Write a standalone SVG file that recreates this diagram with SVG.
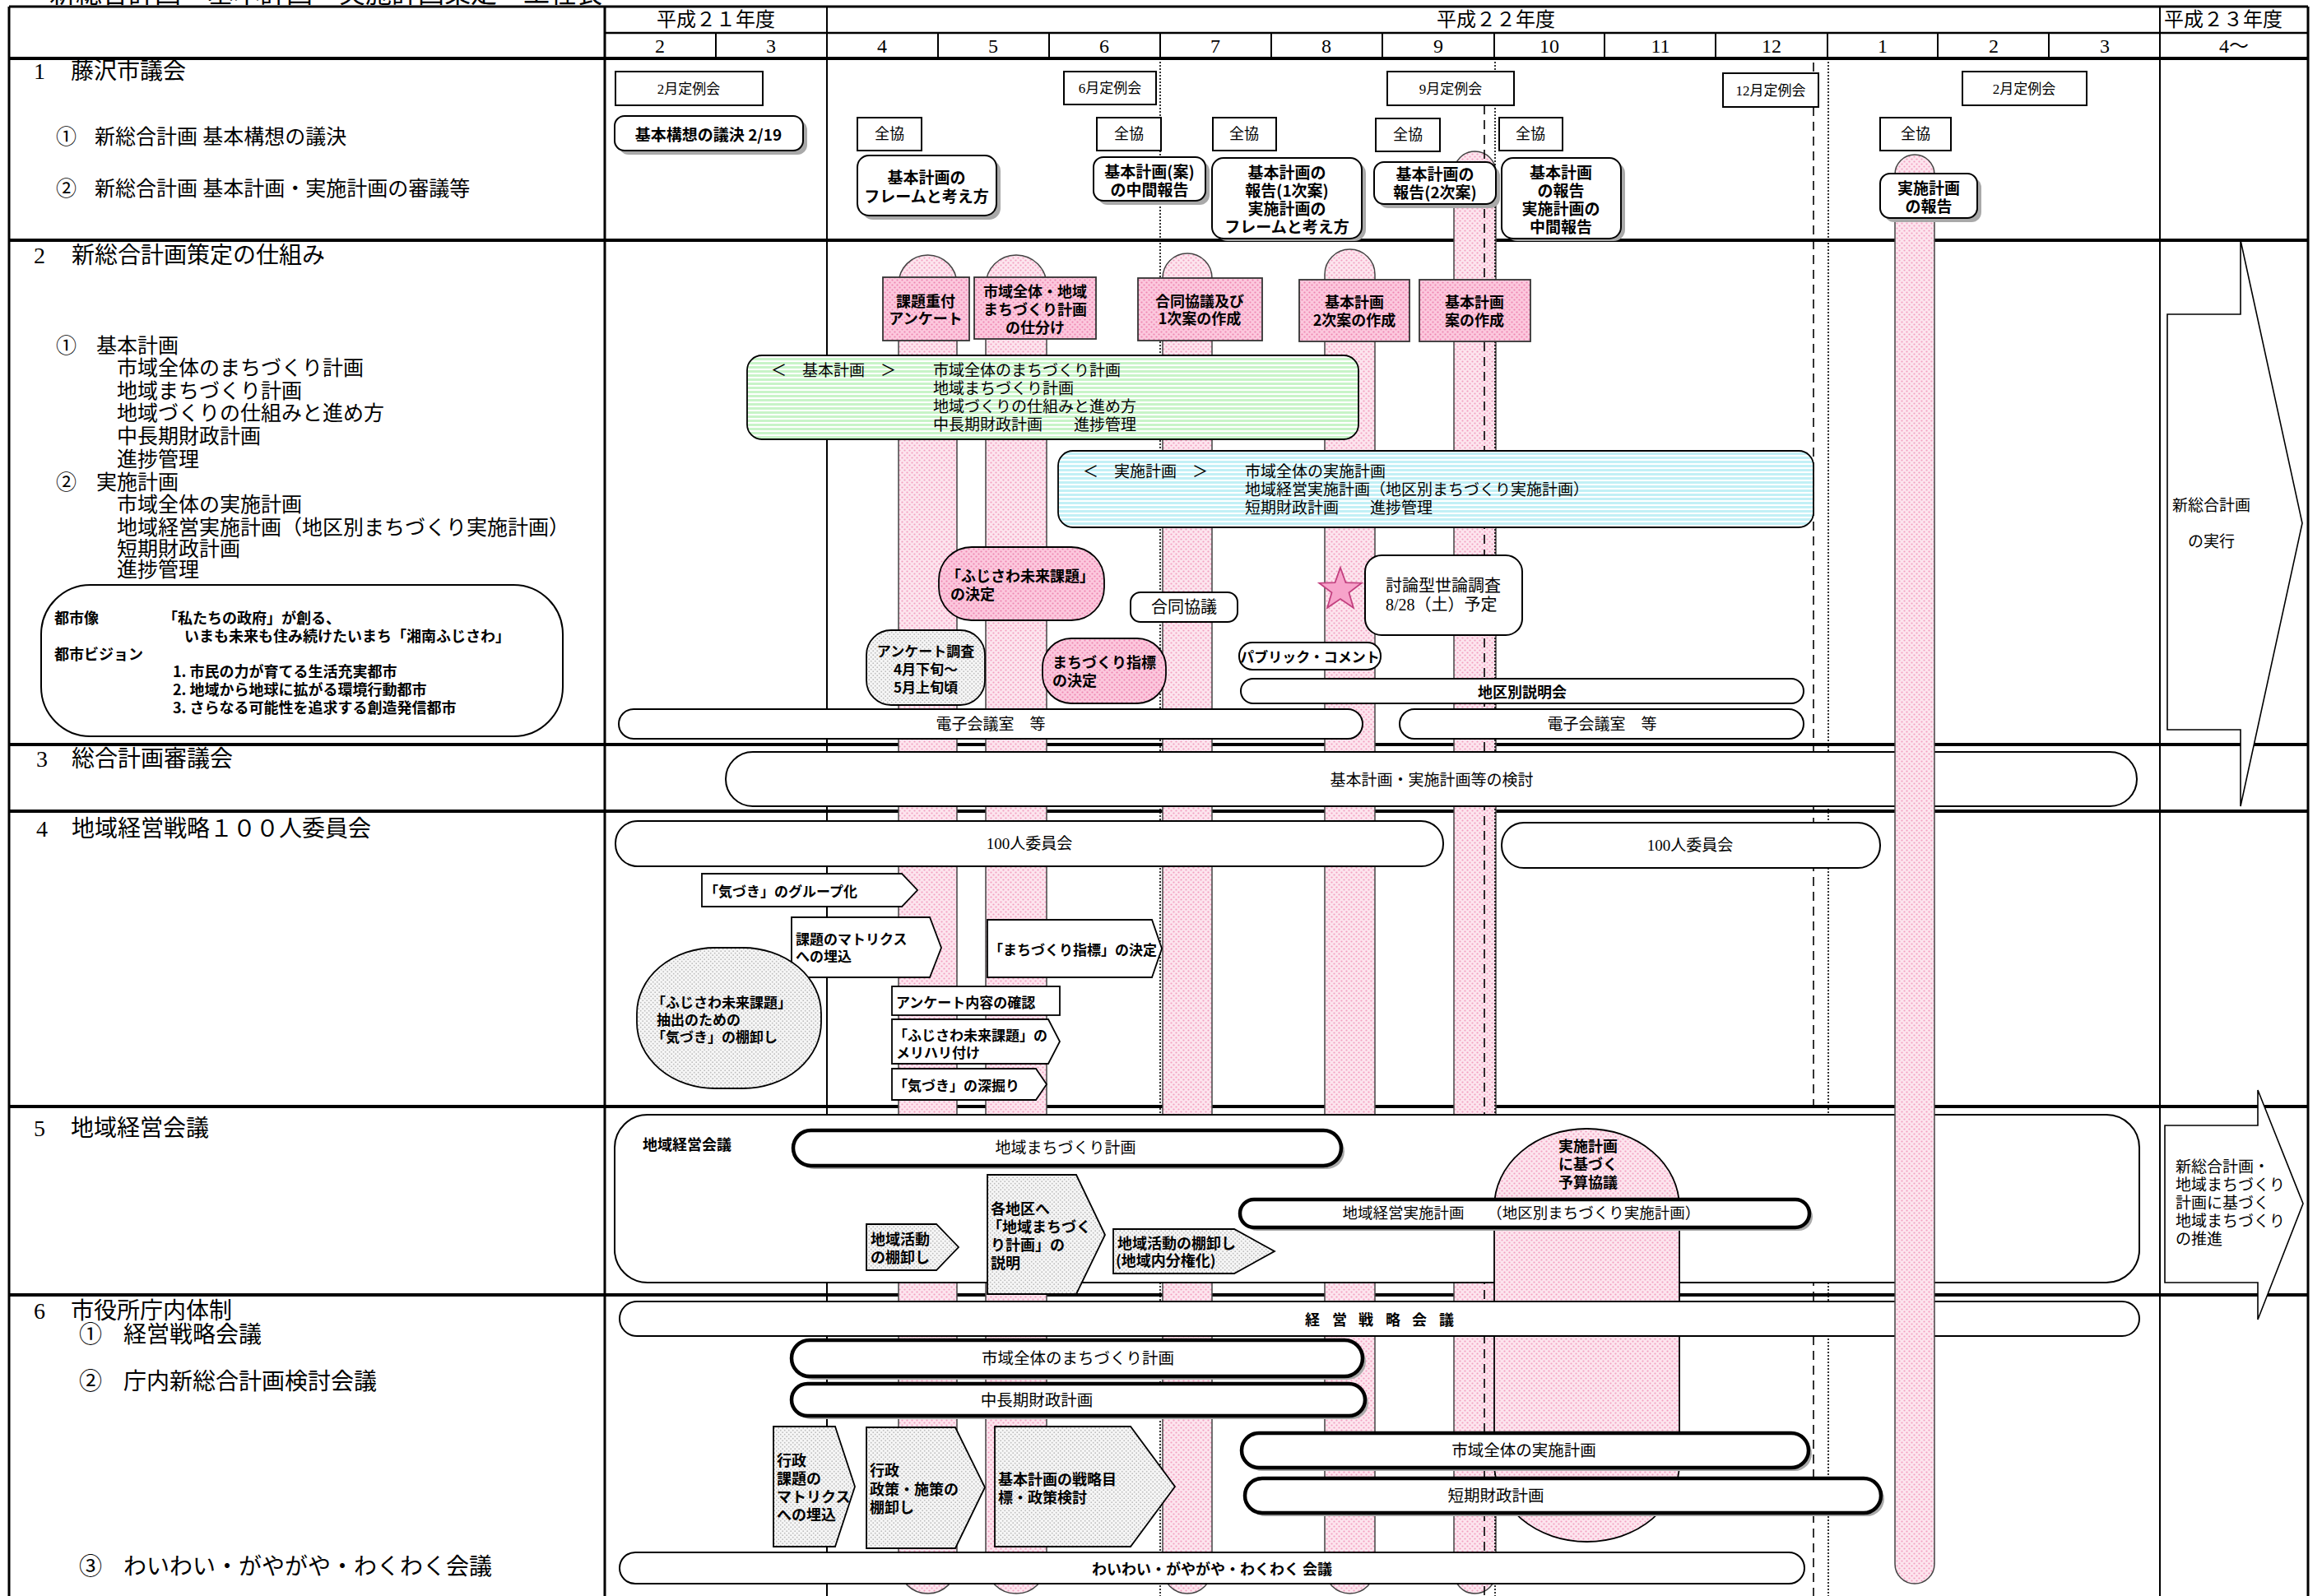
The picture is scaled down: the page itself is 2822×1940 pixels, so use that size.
<svg xmlns="http://www.w3.org/2000/svg" width="2822" height="1940" viewBox="0 0 2822 1940">
<style>
text{dominant-baseline:central}
.s{font-family:'Liberation Serif','Noto Sans CJK JP',serif;fill:#000}
.b{font-family:'Noto Sans CJK JP','Liberation Sans',sans-serif;font-weight:700;fill:#000}
.m{text-anchor:middle}
.thin{fill:#fff;stroke:#000;stroke-width:2}
.thick{fill:#fff;stroke:#000;stroke-width:4.5}
.sh{fill:#a9a9a9}
.pil{fill:url(#pk);stroke:#444;stroke-width:1.5}
.pent{fill:url(#gd);stroke:#000;stroke-width:1.8}
.pentw{fill:#fff;stroke:#000;stroke-width:1.8}
.row{stroke:#000;stroke-width:4}
</style>
<defs>
<pattern id="pk" width="6" height="6" patternUnits="userSpaceOnUse"><rect width="6" height="6" fill="#fde5ee"/><circle cx="1.5" cy="1.5" r="1.1" fill="#f2a0c1"/><circle cx="4.5" cy="4.5" r="1.1" fill="#f2a0c1"/></pattern>
<pattern id="pkb" width="6" height="6" patternUnits="userSpaceOnUse"><rect width="6" height="6" fill="#fcc8dd"/><circle cx="1.5" cy="1.5" r="1.1" fill="#ee86b2"/><circle cx="4.5" cy="4.5" r="1.1" fill="#ee86b2"/></pattern>
<pattern id="gd" width="5" height="5" patternUnits="userSpaceOnUse"><rect width="5" height="5" fill="#f6f6f6"/><circle cx="1.2" cy="1.2" r="0.9" fill="#bdbdbd"/><circle cx="3.7" cy="3.7" r="0.9" fill="#bdbdbd"/></pattern>
<pattern id="gr" width="6" height="5" patternUnits="userSpaceOnUse"><rect width="6" height="5" fill="#c8f4c8"/><rect y="3" width="6" height="2" fill="#ffffff"/></pattern>
<pattern id="cy" width="6" height="5" patternUnits="userSpaceOnUse"><rect width="6" height="5" fill="#c2f0f6"/><rect y="3" width="6" height="2" fill="#ffffff"/></pattern>
</defs>
<rect width="2822" height="1940" fill="#fff"/>

<g id="grid" stroke="#000" fill="none">
<line x1="11" y1="8" x2="2805" y2="8" stroke-width="3"/>
<line x1="11" y1="8" x2="11" y2="1940" stroke-width="3"/>
<line x1="2805" y1="8" x2="2805" y2="1940" stroke-width="3"/>
<line x1="735" y1="8" x2="735" y2="1940" stroke-width="3"/>
<line x1="735" y1="40" x2="2805" y2="40" stroke-width="2.5"/>
<line x1="11" y1="71" x2="2805" y2="71" class="row"/>
<line x1="11" y1="292" x2="2805" y2="292" class="row"/>
<line x1="11" y1="905" x2="2805" y2="905" class="row"/>
<line x1="11" y1="986" x2="2805" y2="986" class="row"/>
<line x1="11" y1="1345" x2="2805" y2="1345" class="row"/>
<line x1="11" y1="1574" x2="2805" y2="1574" class="row"/>
<g stroke-width="2">
<line x1="870" y1="40" x2="870" y2="71"/><line x1="1140" y1="40" x2="1140" y2="71"/><line x1="1275" y1="40" x2="1275" y2="71"/><line x1="1410" y1="40" x2="1410" y2="71"/><line x1="1545" y1="40" x2="1545" y2="71"/><line x1="1680" y1="40" x2="1680" y2="71"/><line x1="1816" y1="40" x2="1816" y2="71"/><line x1="1950" y1="40" x2="1950" y2="71"/><line x1="2085" y1="40" x2="2085" y2="71"/><line x1="2221" y1="40" x2="2221" y2="71"/><line x1="2355" y1="40" x2="2355" y2="71"/><line x1="2490" y1="40" x2="2490" y2="71"/>
<line x1="1005" y1="8" x2="1005" y2="1940"/>
<line x1="2625" y1="8" x2="2625" y2="1940"/>
</g>
</g>

<g id="pillars">
<rect class="pil" x="1092" y="310" width="71" height="1627" rx="35.5"/>
<rect class="pil" x="1198" y="310" width="74" height="1627" rx="37"/>
<rect class="pil" x="1413" y="308" width="60" height="1629" rx="30"/>
<rect class="pil" x="1610" y="303" width="61" height="1634" rx="30.5"/>
<rect class="pil" x="1767" y="184" width="51" height="1753" rx="25.5"/>
</g>

<g id="guides" fill="none" stroke="#000" stroke-width="1.6">
<line x1="1410" y1="71" x2="1410" y2="1940" stroke-dasharray="2 2"/>
<line x1="1817" y1="71" x2="1817" y2="1940" stroke-dasharray="2 2"/>
<line x1="2222" y1="71" x2="2222" y2="1940" stroke-dasharray="2 2"/>
<line x1="1804" y1="128" x2="1804" y2="1940" stroke-dasharray="11 7"/>
<line x1="2204" y1="76" x2="2204" y2="1940" stroke-dasharray="11 7"/>
</g>

<g id="header">
<text class="s" x="60" y="-8" font-size="32">新総合計画　基本計画・実施計画策定　工程表</text>
<text class="s m" x="870" y="24" font-size="24">平成２１年度</text>
<text class="s m" x="1818" y="24" font-size="24">平成２２年度</text>
<text class="s" x="2630" y="24" font-size="24">平成２３年度</text>
<g class="s m" font-size="24">
<text x="802" y="56">2</text><text x="937" y="56">3</text><text x="1072" y="56">4</text><text x="1207" y="56">5</text><text x="1342" y="56">6</text><text x="1477" y="56">7</text><text x="1612" y="56">8</text><text x="1748" y="56">9</text><text x="1883" y="56">10</text><text x="2018" y="56">11</text><text x="2153" y="56">12</text><text x="2288" y="56">1</text><text x="2423" y="56">2</text><text x="2558" y="56">3</text><text x="2715" y="56">4～</text>
</g>
</g>

<g id="labels" class="s">
<text x="41" y="86" font-size="28">1</text><text x="86" y="86" font-size="28">藤沢市議会</text>
<text x="68" y="166" font-size="25">①</text><text x="115" y="166" font-size="25">新総合計画 基本構想の議決</text>
<text x="68" y="229" font-size="25">②</text><text x="115" y="229" font-size="25">新総合計画 基本計画・実施計画の審議等</text>
<text x="41" y="310" font-size="28">2</text><text x="87" y="310" font-size="28">新総合計画策定の仕組み</text>
<g font-size="25">
<text x="68" y="420">①</text><text x="117" y="420">基本計画</text>
<text x="142" y="447">市域全体のまちづくり計画</text>
<text x="142" y="475">地域まちづくり計画</text>
<text x="142" y="502">地域づくりの仕組みと進め方</text>
<text x="142" y="530">中長期財政計画</text>
<text x="142" y="558">進捗管理</text>
<text x="68" y="586">②</text><text x="117" y="586">実施計画</text>
<text x="142" y="613">市域全体の実施計画</text>
<text x="142" y="641">地域経営実施計画（地区別まちづくり実施計画）</text>
<text x="142" y="667">短期財政計画</text>
<text x="142" y="692">進捗管理</text>
</g>
<text x="44" y="922" font-size="28">3</text><text x="87" y="922" font-size="28">総合計画審議会</text>
<text x="44" y="1007" font-size="28">4</text><text x="87" y="1007" font-size="28">地域経営戦略１００人委員会</text>
<text x="41" y="1371" font-size="28">5</text><text x="86" y="1371" font-size="28">地域経営会議</text>
<text x="41" y="1593" font-size="28">6</text><text x="86" y="1593" font-size="28">市役所庁内体制</text>
<text x="96" y="1622" font-size="28">①</text><text x="150" y="1622" font-size="28">経営戦略会議</text>
<text x="96" y="1679" font-size="28">②</text><text x="150" y="1679" font-size="28">庁内新総合計画検討会議</text>
<text x="96" y="1904" font-size="28">③</text><text x="150" y="1904" font-size="28">わいわい・がやがや・わくわく会議</text>
</g>

<g id="vision">
<rect class="thin" x="50" y="711" width="634" height="184" rx="60"/>
<g class="b" font-size="18">
<text x="66" y="750">都市像</text>
<text x="198" y="750">「私たちの政府」が創る、</text>
<text x="224" y="772">いまも未来も住み続けたいまち「湘南ふじさわ」</text>
<text x="66" y="794">都市ビジョン</text>
<text x="210" y="815">1. 市民の力が育てる生活充実都市</text>
<text x="210" y="837">2. 地域から地球に拡がる環境行動都市</text>
<text x="210" y="859">3. さらなる可能性を追求する創造発信都市</text>
</g>
</g>

<g id="row3">
<rect class="thin" x="882" y="914" width="1715" height="66" rx="33"/>
<text class="s m" x="1740" y="948" font-size="19">基本計画・実施計画等の検討</text>
</g>

<g id="row5frame">
<rect class="thin" x="747" y="1355" width="1853" height="204" rx="40"/>
<text class="b" x="781" y="1390" font-size="18">地域経営会議</text>
</g>

<g id="budget">
<rect x="1816" y="1372" width="225" height="502" rx="112" ry="95" fill="url(#pk)" stroke="#000" stroke-width="1.8"/>
<g class="b m" font-size="18"><text x="1930" y="1392">実施計画</text><text x="1930" y="1414">に基づく</text><text x="1930" y="1436">予算協議</text></g>
</g>

<g id="strategy">
<rect class="thin" x="753" y="1582" width="1847" height="42" rx="21"/>
<text class="b" y="1603" font-size="18" x="1586 1619 1651 1684 1716 1749">経営戦略会議</text>
</g>

<g id="pillar6">
<rect class="pil" x="2303" y="188" width="48" height="1737" rx="24"/>
</g>

<g id="row1">
<g class="s m" font-size="17">
<rect class="thin" x="748" y="87" width="179" height="41"/><text x="837" y="108">2月定例会</text>
<rect class="thin" x="1293" y="87" width="112" height="40"/><text x="1349" y="107">6月定例会</text>
<rect class="thin" x="1686" y="87" width="154" height="41"/><text x="1763" y="108">9月定例会</text>
<rect class="thin" x="2094" y="89" width="116" height="41"/><text x="2152" y="110">12月定例会</text>
<rect class="thin" x="2385" y="87" width="151" height="41"/><text x="2460" y="108">2月定例会</text>
</g>
<g class="s m" font-size="18">
<rect class="thin" x="1042" y="143" width="78" height="40"/><text x="1081" y="163">全協</text>
<rect class="thin" x="1333" y="143" width="78" height="40"/><text x="1372" y="163">全協</text>
<rect class="thin" x="1474" y="143" width="77" height="40"/><text x="1512" y="163">全協</text>
<rect class="thin" x="1672" y="144" width="78" height="40"/><text x="1711" y="164">全協</text>
<rect class="thin" x="1822" y="143" width="77" height="40"/><text x="1860" y="163">全協</text>
<rect class="thin" x="2285" y="143" width="86" height="40"/><text x="2328" y="163">全協</text>
</g>
<g class="b m" font-size="19">
<rect class="sh" x="752" y="146" width="229" height="42" rx="12"/><rect class="thin" x="747" y="141" width="229" height="42" rx="12"/><text x="861" y="162">基本構想の議決 2/19</text>
<rect class="sh" x="1047" y="194" width="169" height="73" rx="14"/><rect class="thin" x="1042" y="189" width="169" height="73" rx="14"/><text x="1126" y="214">基本計画の</text><text x="1126" y="237">フレームと考え方</text>
<rect class="sh" x="1334" y="196" width="136" height="53" rx="12"/><rect class="thin" x="1329" y="191" width="136" height="53" rx="12"/><text x="1397" y="207">基本計画(案)</text><text x="1397" y="229">の中間報告</text>
<rect class="sh" x="1478" y="197" width="182" height="96" rx="14"/><rect class="thin" x="1473" y="192" width="182" height="98" rx="14"/><text x="1564" y="208">基本計画の</text><text x="1564" y="230">報告(1次案)</text><text x="1564" y="252">実施計画の</text><text x="1564" y="274">フレームと考え方</text>
<rect class="sh" x="1675" y="202" width="148" height="51" rx="12"/><rect class="thin" x="1670" y="197" width="148" height="51" rx="12"/><text x="1744" y="210">基本計画の</text><text x="1744" y="232">報告(2次案)</text>
<rect class="sh" x="1830" y="197" width="145" height="96" rx="14"/><rect class="thin" x="1825" y="192" width="145" height="98" rx="14"/><text x="1897" y="208">基本計画</text><text x="1897" y="230">の報告</text><text x="1897" y="252">実施計画の</text><text x="1897" y="274">中間報告</text>
<rect class="sh" x="2290" y="216" width="118" height="54" rx="12"/><rect class="thin" x="2285" y="211" width="118" height="54" rx="12"/><text x="2344" y="227">実施計画</text><text x="2344" y="249">の報告</text>
</g>
</g>

<g id="row2">
<g class="b m" font-size="18">
<rect x="1073" y="337" width="105" height="77" fill="url(#pkb)" stroke="#333" stroke-width="1.8"/><text x="1125" y="365">課題重付</text><text x="1125" y="386">アンケート</text>
<rect x="1184" y="337" width="148" height="75" fill="url(#pkb)" stroke="#333" stroke-width="1.8"/><text x="1258" y="353">市域全体・地域</text><text x="1258" y="375">まちづくり計画</text><text x="1258" y="397">の仕分け</text>
<rect x="1383" y="338" width="151" height="76" fill="url(#pkb)" stroke="#333" stroke-width="1.8"/><text x="1458" y="365">合同協議及び</text><text x="1458" y="386">1次案の作成</text>
<rect x="1579" y="340" width="134" height="75" fill="url(#pkb)" stroke="#333" stroke-width="1.8"/><text x="1646" y="366">基本計画</text><text x="1646" y="388">2次案の作成</text>
<rect x="1725" y="340" width="135" height="75" fill="url(#pkb)" stroke="#333" stroke-width="1.8"/><text x="1792" y="366">基本計画</text><text x="1792" y="388">案の作成</text>
</g>
<rect x="908" y="432" width="743" height="102" rx="18" fill="url(#gr)" stroke="#000" stroke-width="1.8"/>
<g class="s" font-size="19">
<text x="937" y="450">＜　基本計画　＞</text>
<text x="1134" y="450">市域全体のまちづくり計画</text>
<text x="1134" y="472">地域まちづくり計画</text>
<text x="1134" y="494">地域づくりの仕組みと進め方</text>
<text x="1134" y="516">中長期財政計画　　進捗管理</text>
</g>
<rect x="1286" y="548" width="918" height="93" rx="18" fill="url(#cy)" stroke="#000" stroke-width="1.8"/>
<g class="s" font-size="19">
<text x="1316" y="573">＜　実施計画　＞</text>
<text x="1513" y="573">市域全体の実施計画</text>
<text x="1513" y="595">地域経営実施計画（地区別まちづくり実施計画）</text>
<text x="1513" y="617">短期財政計画　　進捗管理</text>
</g>
<rect x="1141" y="665" width="201" height="89" rx="40" fill="url(#pkb)" stroke="#000" stroke-width="1.8"/>
<g class="b" font-size="18"><text x="1150" y="699">「ふじさわ未来課題」</text><text x="1155" y="721">の決定</text></g>
<rect class="thin" x="1374" y="720" width="130" height="36" rx="12"/><text class="s m" x="1439" y="738" font-size="20">合同協議</text>
<polygon points="1629,690 1635.5,708.1 1654.7,708.7 1639.5,720.4 1644.9,738.8 1629,728 1613.1,738.8 1618.5,720.4 1603.3,708.7 1622.5,708.1" fill="#f7a3ca" stroke="#c2407f" stroke-width="1.8"/>
<rect class="thin" x="1659" y="675" width="191" height="97" rx="20"/>
<g class="s" font-size="20"><text x="1684" y="712">討論型世論調査</text><text x="1684" y="735">8/28（土）予定</text></g>
<rect x="1053" y="766" width="144" height="91" rx="30" fill="url(#gd)" stroke="#000" stroke-width="1.8"/>
<g class="b m" font-size="17"><text x="1125" y="790">アンケート調査</text><text x="1125" y="812">4月下旬～</text><text x="1125" y="834">5月上旬頃</text></g>
<rect x="1267" y="776" width="150" height="79" rx="35" fill="url(#pkb)" stroke="#000" stroke-width="1.8"/>
<g class="b" font-size="18"><text x="1279" y="804">まちづくり指標</text><text x="1279" y="826">の決定</text></g>
<rect class="thin" x="1506" y="781" width="172" height="33" rx="16"/><text class="b m" x="1592" y="797" font-size="17">パブリック・コメント</text>
<rect class="thin" x="1508" y="825" width="684" height="30" rx="15"/><text class="b m" x="1850" y="840" font-size="18">地区別説明会</text>
<rect class="thin" x="752" y="862" width="904" height="36" rx="18"/><text class="s m" x="1204" y="880" font-size="19">電子会議室　等</text>
<rect class="thin" x="1701" y="862" width="491" height="36" rx="18"/><text class="s m" x="1947" y="880" font-size="19">電子会議室　等</text>
<polygon points="2723,292 2798,636 2723,980 2723,887 2634,887 2634,382 2723,382" fill="#fff" stroke="#000" stroke-width="1.6"/>
<g class="s" font-size="19"><text x="2640" y="614">新総合計画</text><text x="2659" y="658">の実行</text></g>
</g>

<g id="row4">
<rect class="thin" x="748" y="998" width="1006" height="55" rx="27"/><text class="s m" x="1251" y="1025" font-size="19">100人委員会</text>
<rect class="thin" x="1825" y="1000" width="460" height="55" rx="27"/><text class="s m" x="2054" y="1027" font-size="19">100人委員会</text>
<g class="b" font-size="17">
<polygon class="pentw" points="853,1062 1096,1062 1115,1082 1096,1102 853,1102"/><text x="856" y="1082">「気づき」のグループ化</text>
<polygon class="pentw" points="962,1115 1130,1115 1144,1152 1130,1188 962,1188"/><text x="967" y="1140">課題のマトリクス</text><text x="967" y="1161">への埋込</text>
<polygon class="pentw" points="1200,1118 1400,1118 1412,1153 1400,1188 1200,1188"/><text x="1202" y="1153">「まちづくり指標」の決定</text>
<rect x="774" y="1152" width="224" height="171" rx="95" ry="80" fill="url(#gd)" stroke="#000" stroke-width="1.8"/>
<text x="792" y="1217">「ふじさわ未来課題」</text><text x="798" y="1238">抽出のための</text><text x="792" y="1259">「気づき」の棚卸し</text>
<rect class="pentw" x="1084" y="1199" width="204" height="35"/><text x="1089" y="1217">アンケート内容の確認</text>
<polygon class="pentw" points="1084,1239 1274,1239 1288,1266 1274,1293 1084,1293"/><text x="1086" y="1257">「ふじさわ未来課題」の</text><text x="1089" y="1278">メリハリ付け</text>
<polygon class="pentw" points="1084,1299 1259,1299 1272,1318 1259,1337 1084,1337"/><text x="1086" y="1318">「気づき」の深掘り</text>
</g>
</g>

<g id="row5">
<rect class="sh" x="968" y="1378" width="666" height="43" rx="21.5"/><rect class="thick" x="964" y="1374" width="666" height="43" rx="21.5"/><text class="s m" x="1295" y="1395" font-size="19">地域まちづくり計画</text>
<g class="b" font-size="18">
<polygon class="pent" points="1053,1488 1138,1488 1165,1516 1138,1544 1053,1544"/><text x="1058" y="1505">地域活動</text><text x="1058" y="1527">の棚卸し</text>
<polygon class="pent" points="1200,1428 1308,1428 1343,1501 1308,1573 1200,1573"/><text x="1204" y="1468">各地区へ</text><text x="1200" y="1490">「地域まちづく</text><text x="1204" y="1512">り計画」の</text><text x="1204" y="1534">説明</text>
<polygon class="pent" points="1353,1494 1500,1494 1549,1521 1500,1548 1353,1548"/><text x="1358" y="1510">地域活動の棚卸し</text><text x="1356" y="1531">(地域内分権化)</text>
</g>
<rect class="sh" x="1511" y="1462" width="692" height="34" rx="17"/><rect class="thick" x="1507" y="1458" width="692" height="34" rx="17"/><text class="s m" x="1849" y="1475" font-size="18.5">地域経営実施計画　　（地区別まちづくり実施計画）</text>
<polygon points="2744,1325 2799,1463 2744,1604 2744,1559 2631,1559 2631,1368 2744,1368" fill="#fff" stroke="#000" stroke-width="1.6"/>
<g class="s" font-size="19"><text x="2644" y="1418">新総合計画・</text><text x="2644" y="1440">地域まちづくり</text><text x="2644" y="1462">計画に基づく</text><text x="2644" y="1484">地域まちづくり</text><text x="2644" y="1506">の推進</text></g>
</g>

<g id="row6">
<rect class="sh" x="966" y="1633" width="694" height="44" rx="22"/><rect class="thick" x="962" y="1629" width="694" height="44" rx="22"/><text class="s m" x="1310" y="1651" font-size="19.5">市域全体のまちづくり計画</text>
<rect class="sh" x="966" y="1686" width="697" height="39" rx="19.5"/><rect class="thick" x="962" y="1682" width="697" height="39" rx="19.5"/><text class="s m" x="1260" y="1702" font-size="19.5">中長期財政計画</text>
<g class="b" font-size="18">
<polygon class="pent" points="940,1734 1015,1734 1039,1807 1015,1880 940,1880"/><text x="944" y="1774">行政</text><text x="944" y="1796">課題の</text><text x="944" y="1818">マトリクス</text><text x="944" y="1840">への埋込</text>
<polygon class="pent" points="1053,1735 1161,1735 1197,1808 1161,1882 1053,1882"/><text x="1057" y="1786">行政</text><text x="1057" y="1809">政策・施策の</text><text x="1057" y="1831">棚卸し</text>
<polygon class="pent" points="1209,1734 1374,1734 1428,1807 1374,1880 1209,1880"/><text x="1213" y="1797">基本計画の戦略目</text><text x="1213" y="1819">標・政策検討</text>
</g>
<rect class="sh" x="1513" y="1746" width="689" height="42" rx="21"/><rect class="thick" x="1509" y="1742" width="689" height="42" rx="21"/><text class="s m" x="1852" y="1763" font-size="19.5">市域全体の実施計画</text>
<rect class="sh" x="1517" y="1801" width="773" height="42" rx="21"/><rect class="thick" x="1513" y="1797" width="773" height="42" rx="21"/><text class="s m" x="1818" y="1818" font-size="19.5">短期財政計画</text>
<rect class="thin" x="753" y="1887" width="1440" height="38" rx="19"/><text class="b m" x="1473" y="1906" font-size="18">わいわい・がやがや・わくわく 会議</text>
</g>
</svg>
